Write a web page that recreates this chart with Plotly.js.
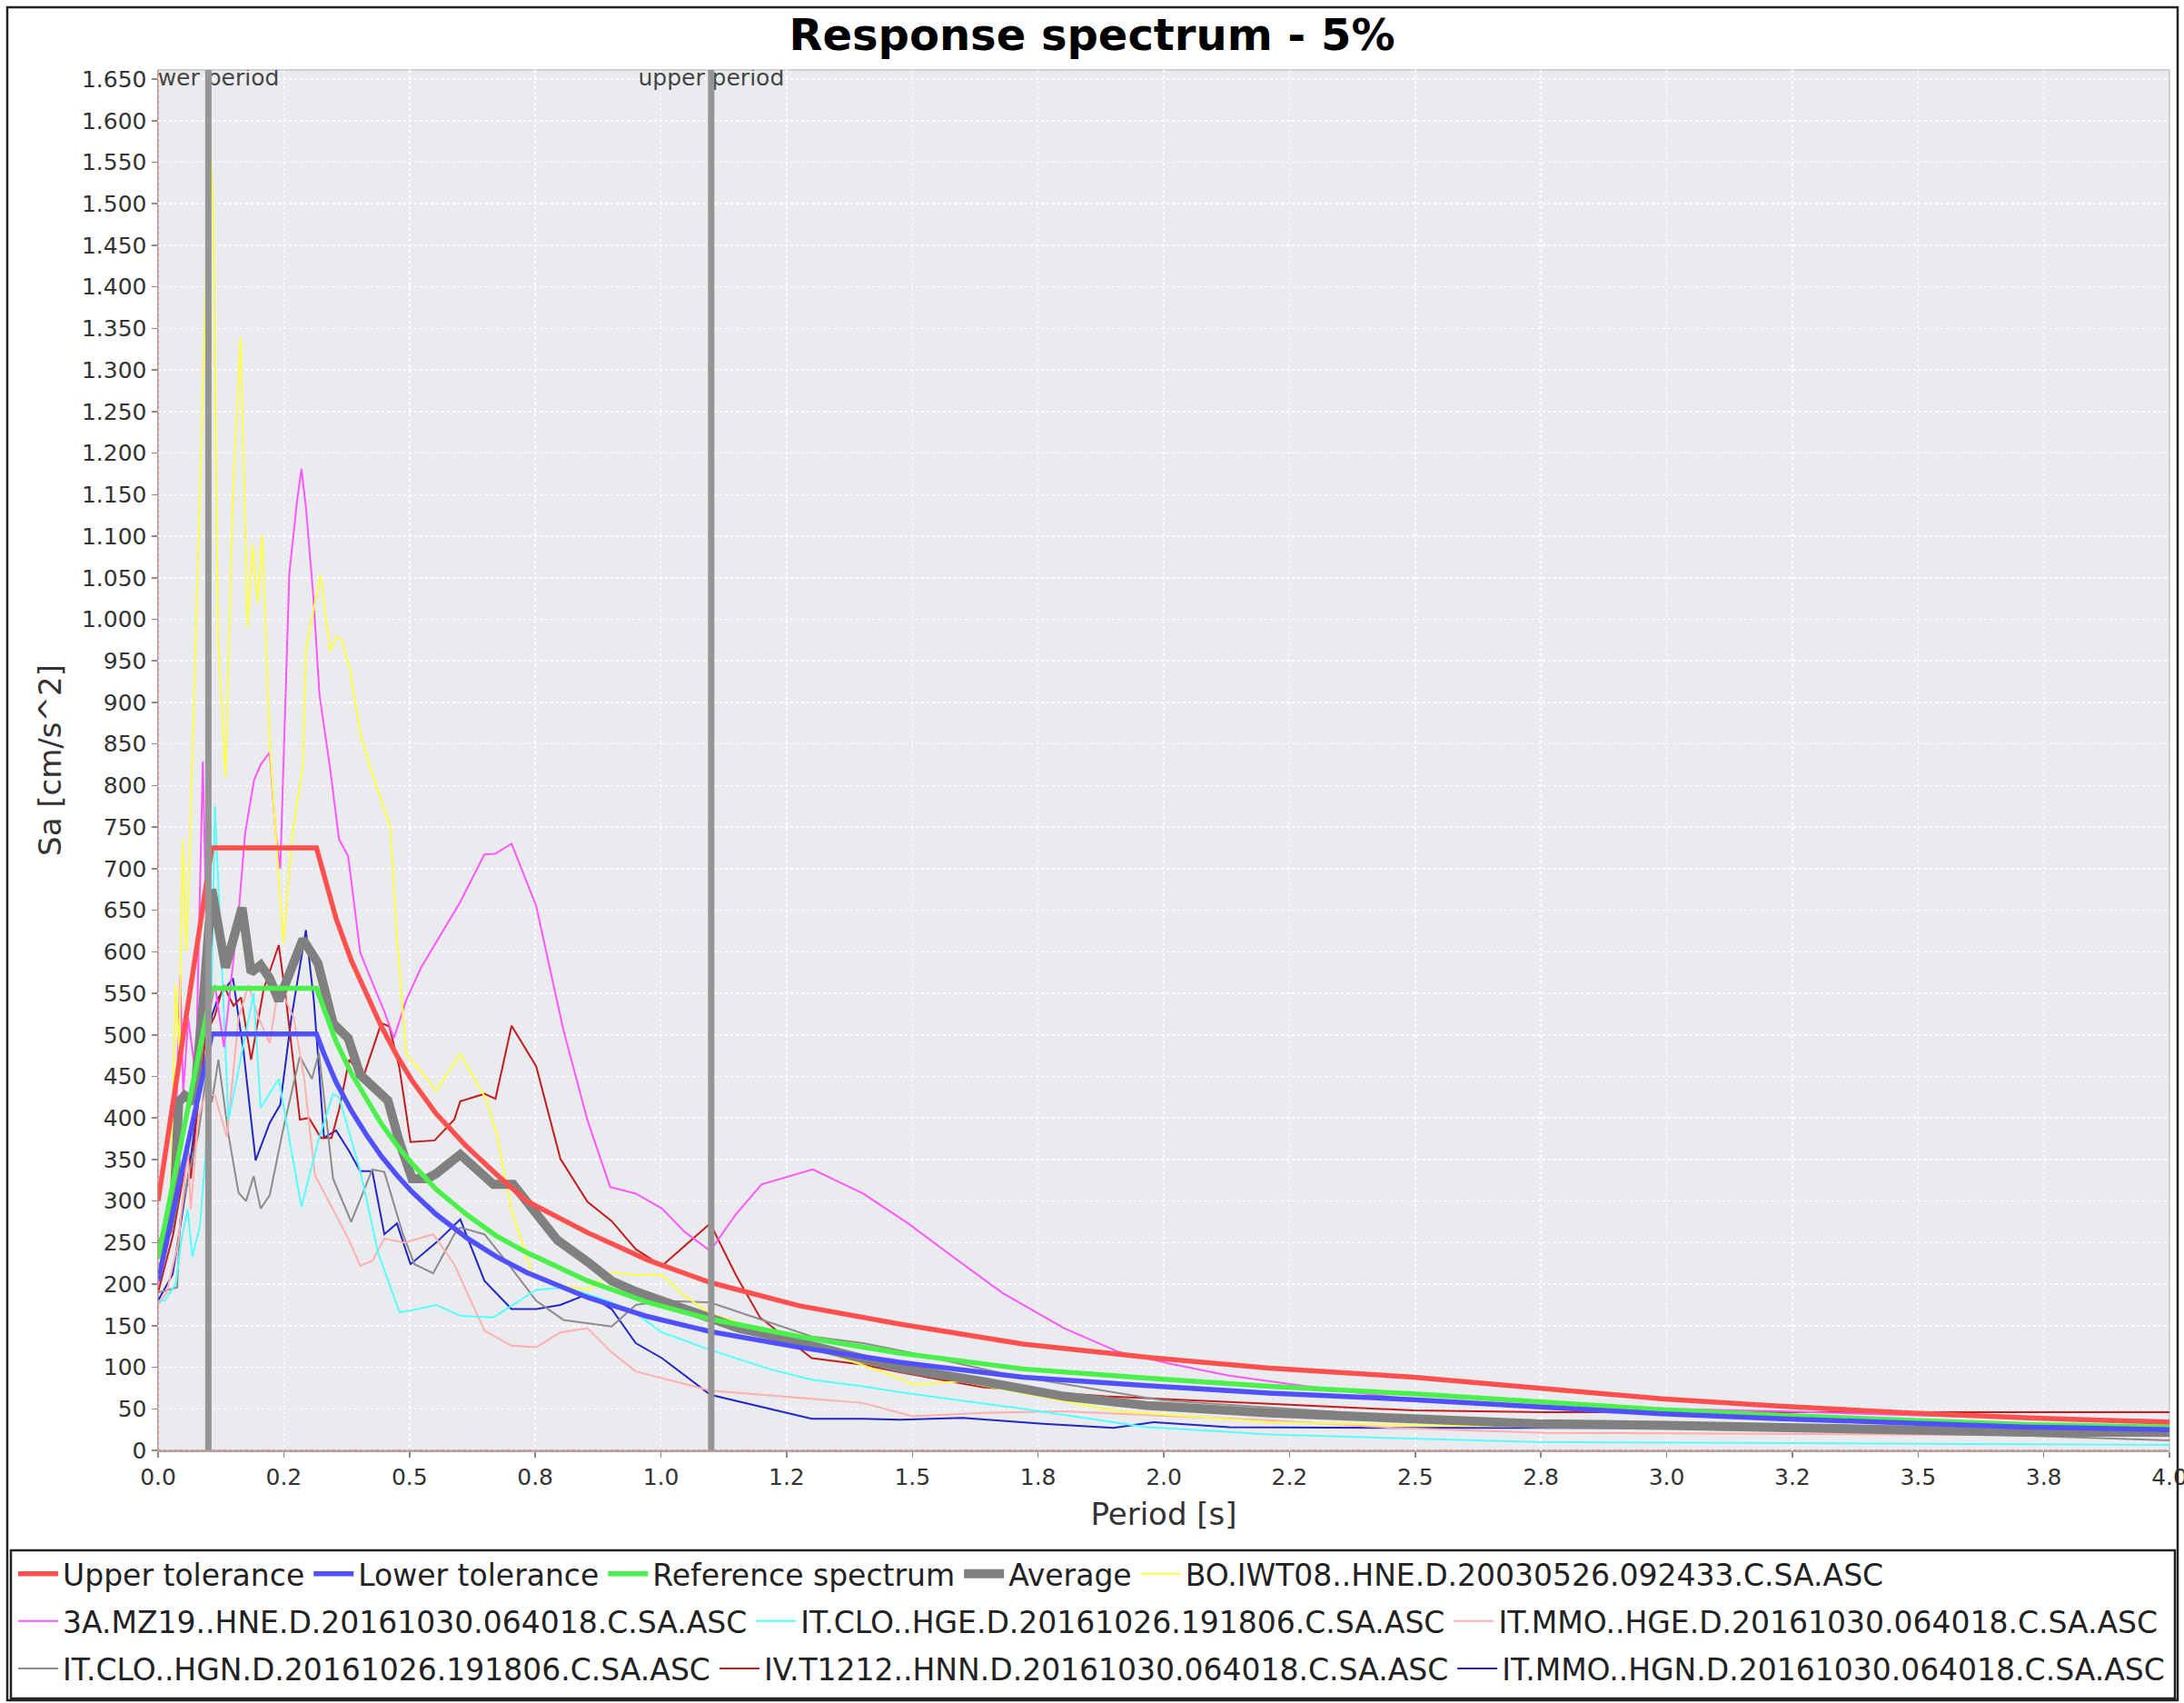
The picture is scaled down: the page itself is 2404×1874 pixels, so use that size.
<!DOCTYPE html>
<html><head><meta charset="utf-8">
<script src="https://cdn.plot.ly/plotly-3.0.1.min.js"></script>
<style>html,body{margin:0;padding:0;background:#fff;} #chart{width:2404px;height:1874px;}</style>
</head><body><div id="chart"></div>
<script>
// ---- data: [period s, Sa cm/s^2] ----
const upperTol = [[0,300],[0.107,725],[0.315,725],[0.33,690],[0.354,640],[0.384,590],[0.414,550],[0.444,510],[0.475,475],[0.505,445],[0.553,405],[0.613,366],[0.673,332],[0.733,300],[0.854,262],[0.974,229],[1.098,202],[1.275,174],[1.475,152],[1.72,128],[1.966,112],[2.21,99],[2.497,88],[2.74,75],[2.99,62],[3.23,53],[3.48,45],[3.72,39],[4.0,34]];
const lowerTol = [[0,204],[0.107,501],[0.315,501],[0.33,477],[0.354,443],[0.384,409],[0.414,380],[0.444,354],[0.475,331],[0.505,311],[0.553,284],[0.613,256],[0.673,233],[0.733,214],[0.854,184],[0.974,161],[1.098,143],[1.275,124],[1.475,106],[1.72,88],[1.966,78],[2.21,69],[2.497,61],[2.74,52],[2.99,44],[3.23,38],[3.48,33],[3.72,28],[4.0,25]];
const refSpectrum = [[0,231],[0.107,556],[0.315,556],[0.33,530],[0.354,492],[0.384,454],[0.414,422],[0.444,393],[0.475,367],[0.505,345],[0.553,314],[0.613,284],[0.673,258],[0.733,238],[0.854,204],[0.974,178],[1.098,158],[1.275,137],[1.475,117],[1.72,98],[1.966,87],[2.21,77],[2.497,68],[2.74,58],[2.99,49],[3.23,42],[3.48,36],[3.72,31],[4.0,28]];
const average = [[0,240],[0.02,265],[0.032,300],[0.041,419],[0.053,427],[0.071,419],[0.089,535],[0.107,675],[0.134,581],[0.167,653],[0.185,575],[0.204,584],[0.222,568],[0.24,541],[0.288,615],[0.318,586],[0.348,514],[0.378,496],[0.402,452],[0.438,430],[0.457,421],[0.48,371],[0.505,327],[0.535,327],[0.553,333],[0.601,356],[0.667,320],[0.706,320],[0.752,284],[0.794,253],[0.854,227],[0.902,204],[0.95,191],[1.002,180],[1.098,160],[1.155,147],[1.215,139],[1.3,126],[1.396,111],[1.475,99],[1.64,83],[1.802,65],[1.966,54],[2.21,45],[2.497,38],[2.74,32],[3.0,30],[3.23,27],[3.48,24],[3.72,22],[4.0,22]];
const boIWT08 = [[0,210],[0.025,300],[0.035,560],[0.042,480],[0.049,735],[0.056,600],[0.062,700],[0.074,953],[0.083,1150],[0.092,1337],[0.103,1580],[0.11,1493],[0.119,980],[0.134,810],[0.149,1150],[0.164,1339],[0.178,991],[0.188,1090],[0.198,1020],[0.207,1101],[0.222,850],[0.234,741],[0.249,610],[0.267,741],[0.288,825],[0.294,964],[0.323,1053],[0.342,962],[0.354,978],[0.363,977],[0.381,942],[0.402,862],[0.426,814],[0.462,750],[0.475,617],[0.493,478],[0.553,433],[0.601,477],[0.652,423],[0.673,382],[0.703,289],[0.745,211],[0.781,201],[0.854,193],[0.902,214],[0.95,211],[1.002,211],[1.047,186],[1.098,165],[1.3,124],[1.475,87],[1.5,79],[1.598,83],[1.908,47],[2.21,34],[2.5,30],[3.0,27],[3.5,24],[4.0,22]];
const mz19HNE = [[0,200],[0.02,250],[0.035,380],[0.044,570],[0.05,430],[0.06,520],[0.075,450],[0.089,829],[0.1,520],[0.113,560],[0.131,485],[0.15,590],[0.161,653],[0.173,742],[0.191,807],[0.204,825],[0.222,840],[0.234,741],[0.243,700],[0.261,1055],[0.276,1140],[0.285,1181],[0.294,1135],[0.309,1026],[0.321,909],[0.342,821],[0.36,735],[0.378,715],[0.402,599],[0.426,563],[0.45,528],[0.469,496],[0.493,541],[0.523,581],[0.553,612],[0.601,660],[0.649,717],[0.671,718],[0.703,730],[0.752,655],[0.806,506],[0.854,397],[0.899,317],[0.95,309],[1.002,291],[1.047,263],[1.098,240],[1.149,284],[1.2,320],[1.302,338],[1.402,309],[1.492,273],[1.574,236],[1.68,189],[1.802,147],[1.908,119],[2.007,105],[2.13,90],[2.26,79],[2.374,70],[2.497,61],[2.757,52],[3.0,50],[3.23,47],[3.5,42],[3.72,39],[4.0,36]];
const cloHGE = [[0,180],[0.014,181],[0.035,200],[0.047,256],[0.059,290],[0.068,233],[0.083,269],[0.095,360],[0.107,569],[0.113,775],[0.122,650],[0.14,398],[0.158,452],[0.19,550],[0.204,412],[0.24,447],[0.285,293],[0.318,371],[0.348,429],[0.36,425],[0.402,336],[0.438,237],[0.48,166],[0.517,170],[0.553,175],[0.601,162],[0.667,160],[0.752,193],[0.806,196],[0.854,188],[0.902,178],[0.95,165],[1.002,142],[1.098,121],[1.215,98],[1.3,85],[1.402,77],[1.475,70],[1.72,50],[1.966,28],[2.21,19],[2.497,14],[2.74,10],[3.5,8],[4.0,6.5]];
const mmoHGE = [[0,175],[0.017,190],[0.04,250],[0.059,360],[0.065,290],[0.08,400],[0.095,430],[0.113,427],[0.137,377],[0.16,520],[0.18,560],[0.2,520],[0.222,490],[0.24,560],[0.27,520],[0.29,450],[0.312,331],[0.354,282],[0.378,255],[0.402,222],[0.426,228],[0.45,255],[0.49,250],[0.547,260],[0.589,224],[0.649,144],[0.703,126],[0.752,124],[0.8,142],[0.854,147],[0.902,118],[0.95,95],[1.002,87],[1.098,72],[1.3,62],[1.402,57],[1.5,41],[1.64,45],[1.8,47],[2.21,36],[2.456,27],[2.757,21],[3.2,20],[4.0,17]];
const cloHGN = [[0,190],[0.038,196],[0.044,277],[0.06,330],[0.08,380],[0.1,470],[0.107,419],[0.12,470],[0.14,380],[0.16,310],[0.175,300],[0.19,330],[0.204,291],[0.222,307],[0.25,390],[0.282,474],[0.306,447],[0.32,478],[0.348,327],[0.384,275],[0.426,338],[0.45,335],[0.487,260],[0.51,224],[0.547,213],[0.589,260],[0.601,268],[0.649,260],[0.703,219],[0.752,180],[0.806,157],[0.902,149],[0.95,175],[1.002,180],[1.098,178],[1.3,137],[1.402,129],[1.492,118],[1.7,90],[2.0,60],[2.5,40],[3.0,32],[3.5,22],[4.0,12]];
const t1212HNN = [[0,190],[0.03,260],[0.05,330],[0.059,365],[0.065,327],[0.08,420],[0.095,500],[0.113,523],[0.13,560],[0.15,535],[0.165,545],[0.185,470],[0.21,555],[0.24,608],[0.255,540],[0.282,398],[0.3,400],[0.324,376],[0.345,376],[0.36,410],[0.38,470],[0.408,449],[0.444,514],[0.46,510],[0.48,460],[0.502,371],[0.55,373],[0.589,398],[0.601,420],[0.649,429],[0.671,423],[0.703,511],[0.752,462],[0.8,351],[0.854,299],[0.902,276],[0.95,242],[1.002,222],[1.098,273],[1.149,211],[1.197,160],[1.3,111],[1.402,103],[1.475,94],[1.64,76],[1.884,65],[2.21,56],[2.497,48],[2.757,46],[3.0,46],[4.0,46]];
const mmoHGN = [[0,180],[0.029,212],[0.044,269],[0.06,330],[0.08,420],[0.095,470],[0.107,523],[0.119,544],[0.149,568],[0.17,480],[0.194,349],[0.222,394],[0.243,416],[0.265,520],[0.294,626],[0.31,540],[0.33,376],[0.354,385],[0.38,360],[0.402,336],[0.426,336],[0.45,260],[0.475,273],[0.502,224],[0.553,250],[0.601,278],[0.649,204],[0.703,170],[0.752,170],[0.8,175],[0.854,188],[0.902,170],[0.95,129],[1.002,111],[1.098,67],[1.155,59],[1.3,38],[1.402,38],[1.475,37],[1.6,39],[1.76,32],[1.9,27],[1.98,34],[2.13,28],[2.5,27],[3.0,27],[3.5,26],[4.0,25]];

const markerPeriods = [0.1, 1.1];
const markerLabels = ['lower period', 'upper period'];

const xTickVals = [0,0.25,0.5,0.75,1.0,1.25,1.5,1.75,2.0,2.25,2.5,2.75,3.0,3.25,3.5,3.75,4.0];
const xTickText = ['0.0','0.2','0.5','0.8','1.0','1.2','1.5','1.8','2.0','2.2','2.5','2.8','3.0','3.2','3.5','3.8','4.0'];
const yTickVals = [0,50,100,150,200,250,300,350,400,450,500,550,600,650,700,750,800,850,900,950,1000,1050,1100,1150,1200,1250,1300,1350,1400,1450,1500,1550,1600,1650];
const yTickText = ['0','50','100','150','200','250','300','350','400','450','500','550','600','650','700','750','800','850','900','950','1.000','1.050','1.100','1.150','1.200','1.250','1.300','1.350','1.400','1.450','1.500','1.550','1.600','1.650'];

const FONT = 'DejaVu Sans';

function tr(name, pts, color, width, legend, rank) {
  return {type:'scatter', mode:'lines', name:name,
    x: pts.map(p => p[0]), y: pts.map(p => p[1]),
    line:{color:color, width:width}, legend:legend, legendrank:rank,
    hoverinfo:'skip', cliponaxis:true};
}

// drawn bottom-first (series 0 ends on top, like the original renderer)
const traces = [
  tr('IT.MMO..HGN.D.20161030.064018.C.SA.ASC', mmoHGN, '#2424c8', 2, 'legend3', 11),
  tr('IV.T1212..HNN.D.20161030.064018.C.SA.ASC', t1212HNN, '#c41c1c', 2, 'legend3', 10),
  tr('IT.CLO..HGN.D.20161026.191806.C.SA.ASC', cloHGN, '#8c8c8c', 2, 'legend3', 9),
  tr('IT.MMO..HGE.D.20161030.064018.C.SA.ASC', mmoHGE, '#ffafaf', 2, 'legend2', 8),
  tr('IT.CLO..HGE.D.20161026.191806.C.SA.ASC', cloHGE, '#55ffff', 2, 'legend2', 7),
  tr('3A.MZ19..HNE.D.20161030.064018.C.SA.ASC', mz19HNE, '#ff55ff', 2, 'legend2', 6),
  tr('BO.IWT08..HNE.D.20030526.092433.C.SA.ASC', boIWT08, '#ffff44', 2, 'legend', 5),
  tr('Average', average, '#808080', 10, 'legend', 4),
  tr('Reference spectrum', refSpectrum, '#4cf04c', 5.5, 'legend', 3),
  tr('Lower tolerance', lowerTol, '#5050ff', 5.5, 'legend', 2),
  tr('Upper tolerance', upperTol, '#ff5050', 5.5, 'legend', 1),
  {type:'scatter', mode:'text', x: markerPeriods, y: markerPeriods.map(() => 1649),
   text: markerLabels, textposition:'middle center', cliponaxis:true,
   textfont:{family:FONT, size:25, color:'#444'}, showlegend:false, hoverinfo:'skip'}
];

const shapes = markerPeriods.map(p => ({type:'line', xref:'x', yref:'paper', x0:p, x1:p, y0:0, y1:1,
  line:{color:'#959595', width:7}, layer:'above'}));
// plot outline and reddish dotted axis baselines
shapes.push({type:'rect', xref:'paper', yref:'paper', x0:0, x1:1, y0:0, y1:1, line:{color:'#c4c4c4', width:1.5}, layer:'below'});
shapes.push({type:'line', xref:'paper', yref:'paper', x0:0, x1:1, y0:0, y1:0, line:{color:'#e88080', width:1.5, dash:'dot'}, layer:'above'});
shapes.push({type:'line', xref:'paper', yref:'paper', x0:0, x1:0, y0:0, y1:1, line:{color:'#e88080', width:1.5, dash:'dot'}, layer:'above'});
// outer chart frame and legend frame
shapes.push({type:'rect', xref:'paper', yref:'paper', x0:-0.07498, x1:1.00407, y0:-0.18104, y1:1.04543, line:{color:'#222', width:2.5}});
shapes.push({type:'rect', xref:'paper', yref:'paper', x0:-0.07317, x1:1.00271, y0:-0.17972, y1:-0.07242, line:{color:'#222', width:2.5}});

function legendCfg(yc) {
  return {orientation:'h', xref:'paper', yref:'paper', x:-0.0718, xanchor:'left', y:yc, yanchor:'middle',
    font:{family:FONT, size:33, color:'#222'}, bgcolor:'rgba(0,0,0,0)', borderwidth:0,
    itemwidth:44, tracegroupgap:0, traceorder:'normal'};
}

const layout = {
  width:2404, height:1874,
  paper_bgcolor:'#ffffff', plot_bgcolor:'#eaebee',
  margin:{l:174, r:16, t:77, b:278, pad:0, autoexpand:false},
  font:{family:FONT, color:'#333'},
  title:{text:'Response spectrum - 5%', xref:'container', x:0.5, xanchor:'center', yref:'container', y:0.9797, yanchor:'middle',
    font:{family:FONT, size:48, color:'#000', weight:'bold'}},
  xaxis:{range:[0,4.0], tickvals:xTickVals, ticktext:xTickText, ticks:'outside', ticklen:6, tickwidth:1.5, tickcolor:'#888',
    showline:true, linecolor:'#a8a8a8', linewidth:1.5, zeroline:false, ticklabeloverflow:'allow',
    showgrid:true, gridcolor:'#ffffff', gridwidth:1.5, griddash:'dot',
    tickfont:{family:FONT, size:25, color:'#333'},
    title:{text:'Period [s]', font:{family:FONT, size:34, color:'#333'}, standoff:15}, automargin:false},
  yaxis:{range:[0,1661], tickvals:yTickVals, ticktext:yTickText, ticks:'outside', ticklen:6, tickwidth:1.5, tickcolor:'#888',
    showline:true, linecolor:'#a8a8a8', linewidth:1.5, zeroline:false,
    showgrid:true, gridcolor:'#ffffff', gridwidth:1.5, griddash:'dot',
    tickfont:{family:FONT, size:25, color:'#333'},
    title:{text:'Sa [cm/s^2]', font:{family:FONT, size:34, color:'#333'}, standoff:12}, automargin:false},
  showlegend:true,
  legend:legendCfg(-0.0894),
  legend2:legendCfg(-0.1237),
  legend3:legendCfg(-0.1580),
  shapes:shapes
};

Plotly.newPlot('chart', traces, layout, {staticPlot:true, displayModeBar:false});
</script></body></html>
